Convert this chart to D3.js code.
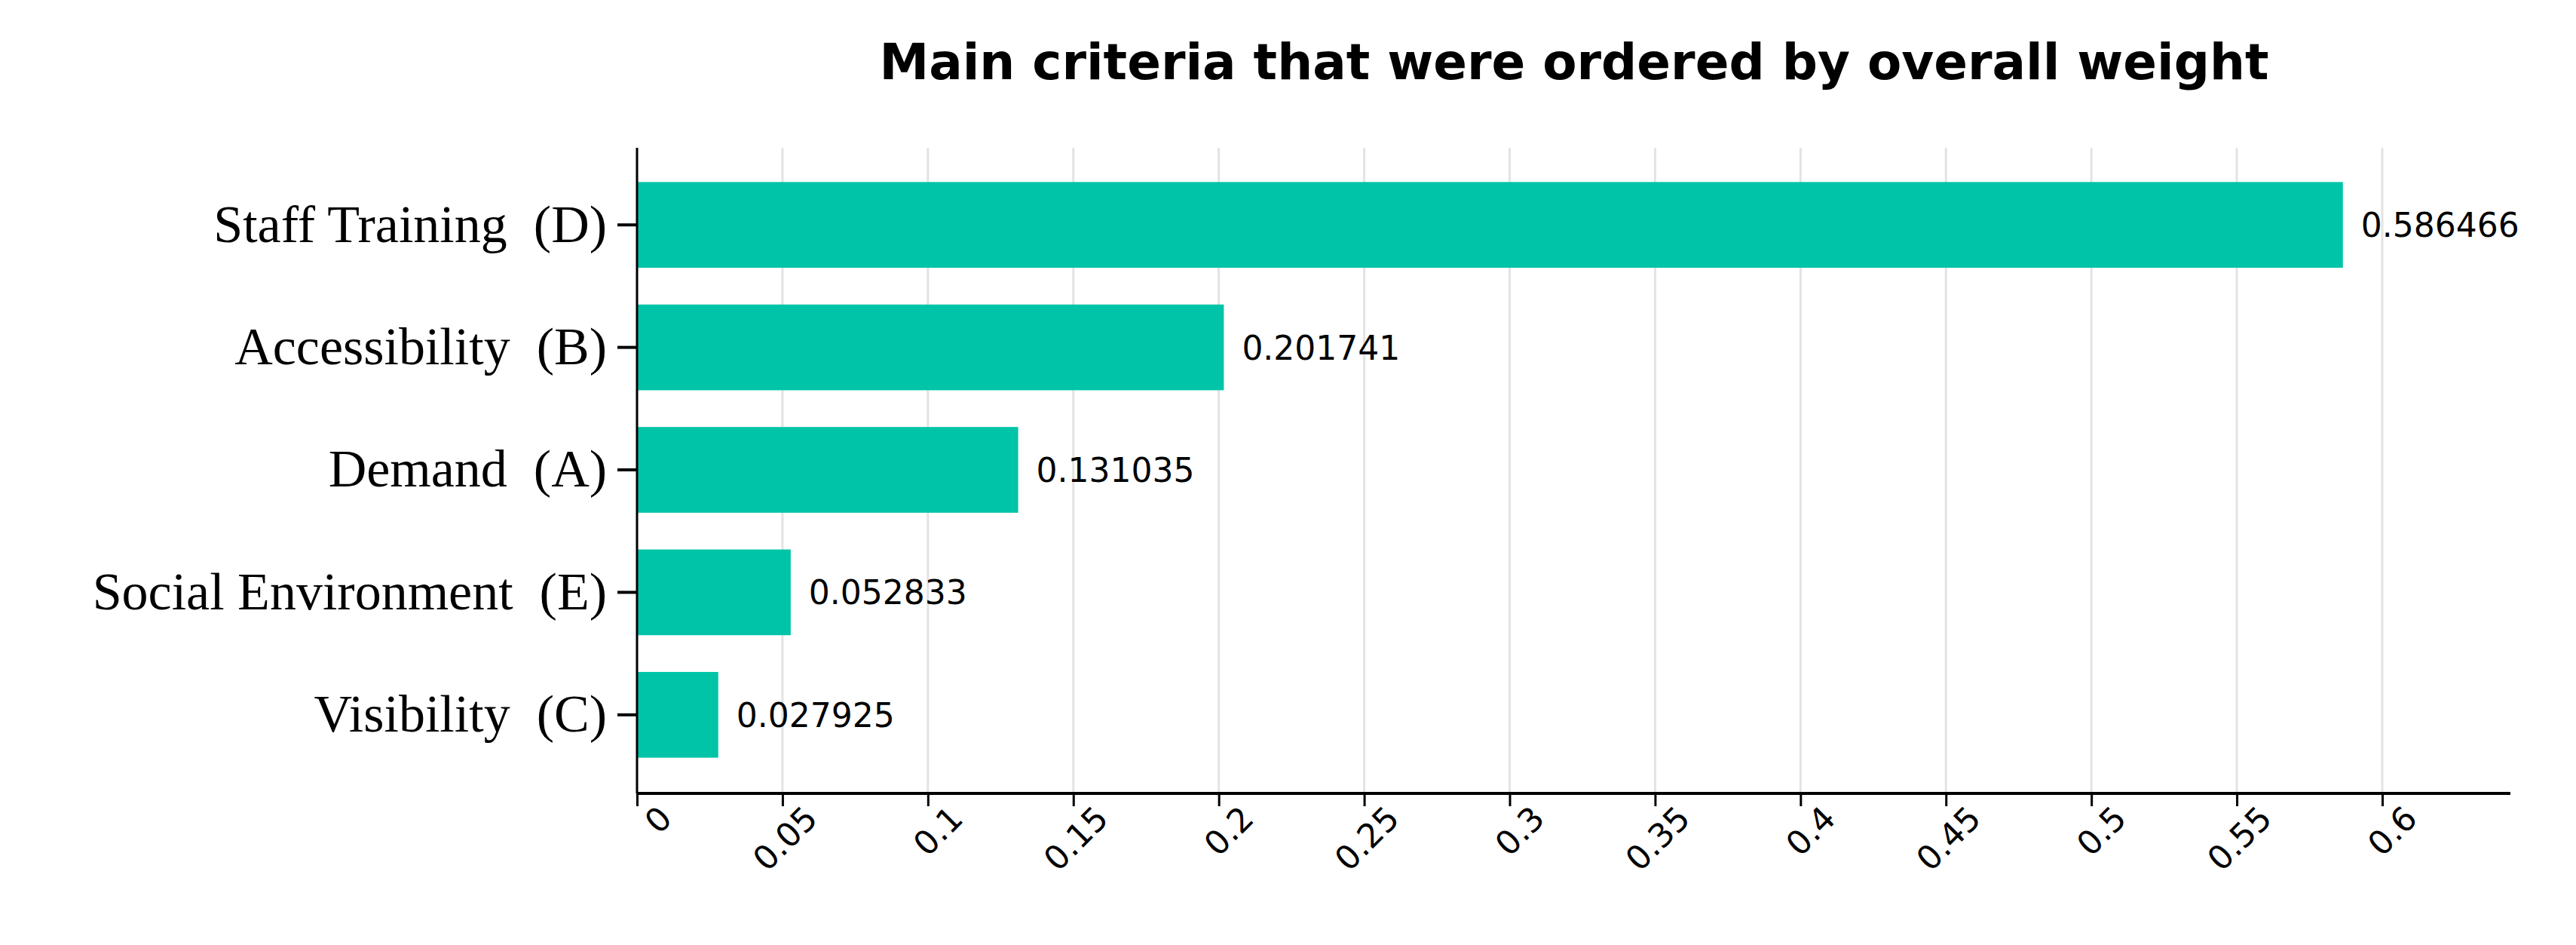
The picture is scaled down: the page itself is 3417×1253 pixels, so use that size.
<!DOCTYPE html><html><head><meta charset="utf-8">
<script src="https://cdn.jsdelivr.net/npm/d3@7"></script>
<style>body{margin:0;background:#fff}</style></head><body>
<script>
const categories=["Staff Training  (D)","Accessibility  (B)","Demand  (A)","Social Environment  (E)","Visibility  (C)"];
const weights=[0.586466,0.201741,0.131035,0.052833,0.027925];
const valueLabels=["0.586466","0.201741","0.131035","0.052833","0.027925"];
const tickValues=[0,0.05,0.1,0.15,0.2,0.25,0.3,0.35,0.4,0.45,0.5,0.55,0.6];
const tickLabels=["0","0.05","0.1","0.15","0.2","0.25","0.3","0.35","0.4","0.45","0.5","0.55","0.6"];
const W=3417,H=1253;
const svg=d3.select("body").append("svg").attr("width",W).attr("height",H);
const x=d3.scaleLinear().domain([0,0.6]).range([845,3160]);
const y=d3.scaleBand().domain(categories).range([217,1029]).padding(0.3).paddingOuter(0.15);
const plotTop=196,plotBottom=1052,plotRight=3330;
svg.append("g").selectAll("line").data(tickValues.slice(1)).join("line")
 .attr("x1",d=>x(d)).attr("x2",d=>x(d)).attr("y1",plotTop).attr("y2",plotBottom)
 .attr("stroke","#e3e3e3").attr("stroke-width",3);
svg.append("g").selectAll("rect").data(weights).join("rect")
 .attr("x",x(0)).attr("y",(d,i)=>y(categories[i])).attr("width",d=>x(d)-x(0))
 .attr("height",y.bandwidth()).attr("fill","#00c4a7");
svg.append("g").selectAll("text").data(weights).join("text")
 .attr("x",d=>x(d)+24).attr("y",(d,i)=>y(categories[i])+y.bandwidth()/2+16)
 .attr("font-family","DejaVu Sans").attr("font-size",44).text((d,i)=>valueLabels[i]);
const xa=svg.append("g").attr("transform",`translate(0,${plotBottom})`)
 .call(d3.axisBottom(x).tickValues(tickValues).tickFormat((d,i)=>tickLabels[i]).tickSize(17).tickSizeOuter(0));
xa.select(".domain").attr("d",`M${x(0)},0H${plotRight}`).attr("stroke-width",4);
xa.selectAll(".tick line").attr("stroke-width",3);
xa.selectAll("text").attr("font-family","DejaVu Sans").attr("font-size",44)
 .attr("text-anchor","end").attr("dx","0.2em").attr("dy","0.9em")
 .attr("transform","rotate(-45)").attr("x",0).attr("y",20);
const ya=svg.append("g").attr("transform",`translate(${x(0)},0)`)
 .call(d3.axisLeft(y).tickSize(26).tickSizeOuter(0).tickPadding(14));
ya.select(".domain").attr("d",`M0,${plotTop}V${plotBottom}`).attr("stroke-width",3);
ya.selectAll(".tick line").attr("stroke-width",4);
ya.selectAll("text").attr("font-family","Liberation Serif").attr("font-size",70).style("white-space","pre");
svg.append("text").attr("x",2088).attr("y",105).attr("text-anchor","middle")
 .attr("font-family","DejaVu Sans").attr("font-weight","bold").attr("font-size",66)
 .text("Main criteria that were ordered by overall weight");
</script></body></html>
